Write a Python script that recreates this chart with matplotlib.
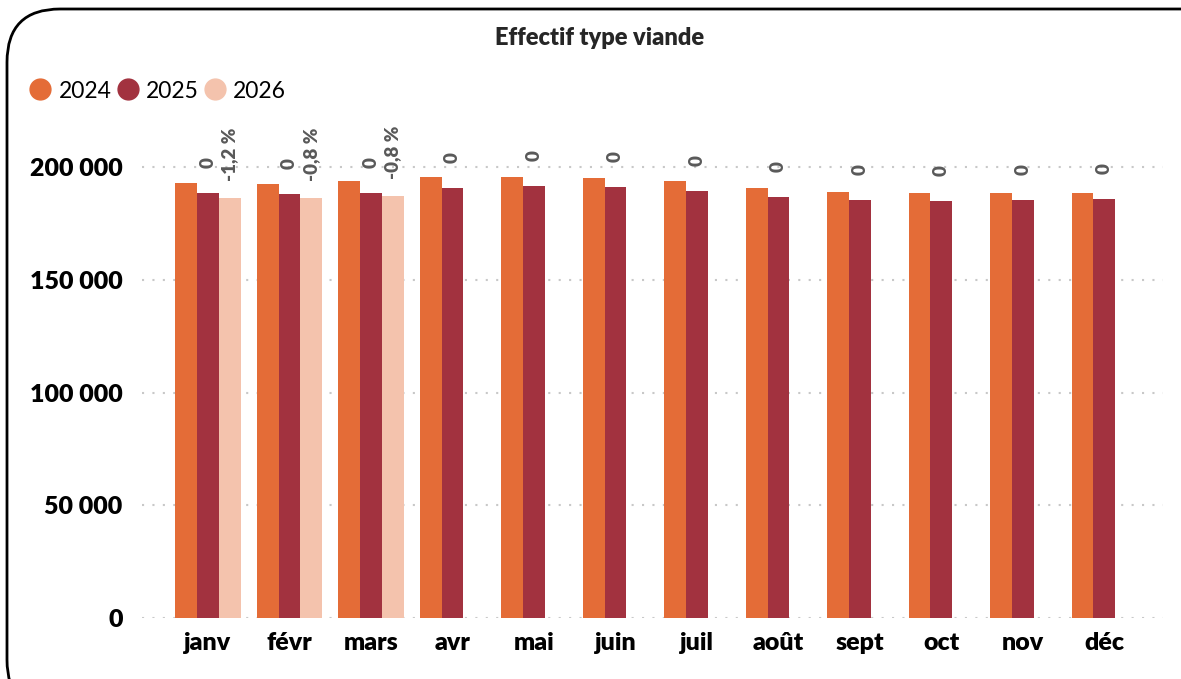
import matplotlib.pyplot as plt
from matplotlib.lines import Line2D
from matplotlib.patches import FancyBboxPatch
from matplotlib.ticker import FuncFormatter
import numpy as np

months = ["janv", "févr", "mars", "avr", "mai", "juin", "juil", "août", "sept", "oct", "nov", "déc"]
v2024 = [192900, 192500, 193900, 195600, 195600, 195100, 193900, 190800, 188900, 188600, 188600, 188600]
v2025 = [188500, 188000, 188600, 190800, 191700, 191300, 189500, 186800, 185500, 185100, 185500, 185900]
v2026 = [186300, 186400, 187300]
labels_2025 = ["0"] * 12
labels_2026 = ["-1,2 %", "-0,8 %", "-0,8 %"]

c2024 = "#E46C37"
c2025 = "#A2323F"
c2026 = "#F4C3AD"
label_grey = "#595959"

plt.rcParams["font.family"] = ["Lato", "DejaVu Sans"]
bold = "heavy"

fig = plt.figure(figsize=(11.81, 6.79), dpi=100)
ax = fig.add_axes([142 / 1181, 61 / 679, (1163 - 142) / 1181, 0.82 - 61 / 679])

x = np.arange(len(months))
w = 0.267
ax.bar(x - w, v2024, w, color=c2024, zorder=2)
ax.bar(x, v2025, w, color=c2025, zorder=2)
x26 = x[:len(v2026)] + w
ax.bar(x26, v2026, w, color=c2026, zorder=2)

for xi, v, lab in zip(x, v2025, labels_2025):
    ax.annotate(lab, (xi, v), xytext=(0, 18), textcoords="offset points",
                rotation=90, ha="center", va="bottom", fontsize=13.5,
                fontweight=bold, color=label_grey)
for xi, v, lab in zip(x26, v2026, labels_2026):
    ax.annotate(lab, (xi, v), xytext=(0, 12), textcoords="offset points",
                rotation=90, ha="center", va="bottom", fontsize=13.5,
                fontweight=bold, color=label_grey)

ax.set_xlim(-0.81, 11.72)
ax.set_ylim(0, 220000)
ax.set_yticks([0, 50000, 100000, 150000, 200000])
ax.yaxis.set_major_formatter(FuncFormatter(lambda v, p: f"{int(v):,}".replace(",", " ")))
ax.set_xticks(x)
ax.set_xticklabels(months)
ax.tick_params(length=0, labelsize=18, pad=10)
ax.tick_params(axis="y", pad=14)
for lbl in ax.get_xticklabels() + ax.get_yticklabels():
    lbl.set_fontweight(bold)
ax.grid(axis="y", color="#C8C8C8", linestyle=(0, (1, 4)), linewidth=1.5, zorder=0)
for s in ax.spines.values():
    s.set_visible(False)

fig.text(600 / 1181, 1 - 38 / 679, "Effectif type viande", ha="center", va="center",
         fontsize=17, fontweight=bold, color="#262626")

handles = [Line2D([], [], marker="o", linestyle="", markersize=15, color=c) for c in (c2024, c2025, c2026)]
fig.legend(handles, ["2024", "2025", "2026"], loc="center left",
           bbox_to_anchor=(6 / 1181, 1 - 91 / 679), ncol=3, frameon=False,
           fontsize=16.5, handletextpad=0.2, columnspacing=0.1, handlelength=1.2)

border = FancyBboxPatch((7 / 1181, -0.05), 1.1, 1 - 9 / 679 + 0.05,
                        boxstyle="round,pad=0,rounding_size=0.045",
                        transform=fig.transFigure, fill=False, edgecolor="black",
                        linewidth=2, mutation_aspect=1181 / 679)
fig.patches.append(border)

fig.savefig("out.png", dpi=100)
